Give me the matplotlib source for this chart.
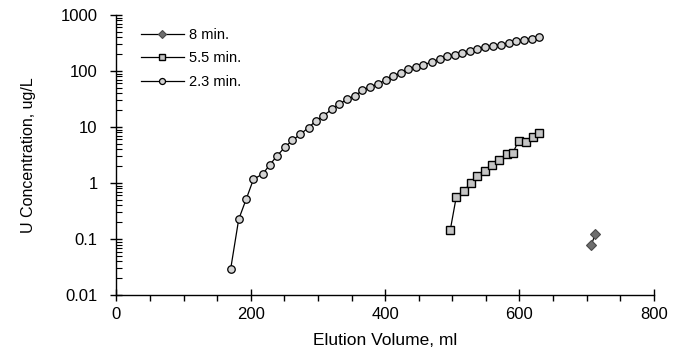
import numpy as np
import matplotlib.pyplot as plt
from matplotlib.ticker import LogLocator, MultipleLocator, FixedLocator, FixedFormatter

plt.rcParams['font.family'] = ['Liberation Sans', 'DejaVu Sans']

# 2.3 min. run
vol_23 = [170, 182, 193, 204, 218, 228, 239, 251, 262, 274, 286, 297, 308, 321,
          332, 344, 355, 366, 377, 390, 401, 412, 423, 434, 446, 457, 470, 481,
          492, 504, 515, 526, 537, 549, 561, 573, 585, 595, 607, 618, 629]
conc_23 = [0.029, 0.225, 0.51, 1.17, 1.46, 2.1, 3.05, 4.4, 5.8, 7.45, 9.8, 12.9,
           15.9, 20.8, 26, 31.5, 36, 45, 51.6, 59, 70, 82, 92, 108, 117, 129, 146,
           163, 182, 193, 209, 224, 247, 268, 283, 295, 316, 339, 363, 378, 410]

# 5.5 min. run
vol_55 = [497, 506, 517, 528, 537, 549, 559, 570, 581, 590, 599, 610, 620, 629]
conc_55 = [0.145, 0.57, 0.73, 1.0, 1.31, 1.63, 2.08, 2.6, 3.27, 3.41, 5.74, 5.37,
           6.76, 7.9]

# 8 min. run
vol_8 = [707, 713]
conc_8 = [0.078, 0.125]

fig = plt.figure(figsize=(6.81, 3.53), dpi=100)
ax = fig.add_axes([0.171, 0.164, 0.789, 0.7935])

ax.plot(vol_8, conc_8, color='black', lw=0.9, marker='D', ms=5,
        mfc='#6e6e6e', mec='#4a4a4a', mew=0.8, label='8 min.')
ax.plot(vol_55, conc_55, color='black', lw=0.9, marker='s', ms=5.8,
        mfc='#c4c4c4', mec='black', mew=1.0, label='5.5 min.')
ax.plot(vol_23, conc_23, color='black', lw=0.9, marker='o', ms=5.4,
        mfc='#d4d4d4', mec='black', mew=0.9, label='2.3 min.')

ax.set_yscale('log')
ax.set_xlim(0, 800)
ax.set_ylim(0.01, 1000)

ax.xaxis.set_major_locator(MultipleLocator(200))
ax.xaxis.set_minor_locator(MultipleLocator(50))
ax.yaxis.set_major_locator(FixedLocator([0.01, 0.1, 1, 10, 100, 1000]))
ax.yaxis.set_major_formatter(FixedFormatter(['0.01', '0.1', '1', '10', '100', '1000']))
ax.yaxis.set_minor_locator(LogLocator(base=10, subs=np.arange(2, 10), numticks=20))

for s in ['top', 'right']:
    ax.spines[s].set_visible(False)
for s in ['left', 'bottom']:
    ax.spines[s].set_linewidth(1.0)

ax.tick_params(axis='x', which='major', direction='inout', length=9, width=1.0,
               labelsize=12, pad=4)
ax.tick_params(axis='x', which='minor', direction='out', length=4, width=1.0)
ax.tick_params(axis='y', which='major', direction='inout', length=9, width=1.0,
               labelsize=12, pad=9)
ax.tick_params(axis='y', which='minor', direction='in', length=4, width=0.8)

ax.set_xlabel('Elution Volume, ml', fontsize=12.5, labelpad=8)
ax.set_ylabel('U Concentration, ug/L', fontsize=11.5, labelpad=18)

ax.legend(loc='upper left', bbox_to_anchor=(0.03, 0.985), frameon=False,
          fontsize=10.5, handlelength=2.9, handletextpad=0.4, labelspacing=0.65,
          borderaxespad=0.2, markerscale=0.8)

fig.savefig('out.png', dpi=100)
